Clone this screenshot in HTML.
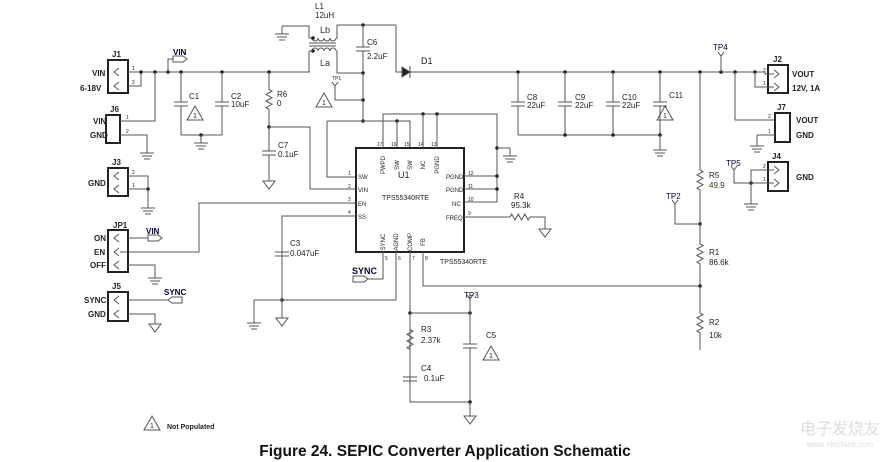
<!DOCTYPE html>
<html><head><meta charset="utf-8"><style>
html,body{margin:0;padding:0;background:#fff;}
svg{display:block;font-family:"Liberation Sans",Arial,sans-serif;}
</style></head><body>
<svg id="s" width="893" height="462" viewBox="0 0 893 462" xmlns="http://www.w3.org/2000/svg">
<g id="g" stroke="#555" stroke-width="1" fill="none"></g>
<g id="t" fill="#222" stroke="none" font-size="8"></g>
<text x="445" y="456" text-anchor="middle" font-size="15.5" font-weight="bold" fill="#111">Figure 24.  SEPIC Converter Application Schematic</text>
<text x="840" y="434" text-anchor="middle" font-size="16" fill="#ddd" font-family="'Noto Sans CJK SC',sans-serif">电子发烧友</text>
<text x="840" y="447" text-anchor="middle" font-size="8" fill="#ddd">www.elecfans.com</text>
</svg>
<script>
var G=document.getElementById('g'),T=document.getElementById('t'),NS='http://www.w3.org/2000/svg';
function el(p,n,a){var e=document.createElementNS(NS,n);for(var k in a)e.setAttribute(k,a[k]);p.appendChild(e);return e;}
function L(){var a=arguments,d='M'+a[0]+' '+a[1];for(var i=2;i<a.length;i+=2)d+=' L'+a[i]+' '+a[i+1];el(G,'path',{d:d});}
function D(x,y){el(G,'circle',{cx:x,cy:y,r:1.8,fill:'#222',stroke:'none'});}
function tx(x,y,s,o){o=o||{};var e=el(T,'text',{x:x,y:y,'font-size':o.fs||8,'font-weight':o.b?'bold':'normal','text-anchor':o.a||'start',fill:o.c||'#222'});if(o.r)e.setAttribute('transform','rotate(-90 '+x+' '+y+')');e.textContent=s;}
function gnd(x,y){L(x,y,x,y+8);L(x-7,y+8,x+7,y+8);L(x-5,y+11,x+5,y+11);L(x-3,y+14,x+3,y+14);}
function agnd(x,y){L(x,y,x,y+6);el(G,'path',{d:'M'+(x-6)+' '+(y+6)+' L'+(x+6)+' '+(y+6)+' L'+x+' '+(y+14)+' Z'});}
function resV(x,y1,y2,mm){var m=mm||(y1+y2)/2,d='M'+x+' '+y1+' L'+x+' '+(m-10);for(var i=0;i<6;i++)d+=' L'+(x+(i%2?-3:3))+' '+(m-10+3.3*i+1.6);d+=' L'+x+' '+(m+10)+' L'+x+' '+y2;el(G,'path',{d:d});}
function resH(x1,x2,y){var m=(x1+x2)/2,d='M'+x1+' '+y+' L'+(m-10)+' '+y;for(var i=0;i<6;i++)d+=' L'+(m-10+3.3*i+1.6)+' '+(y+(i%2?3:-3));d+=' L'+(m+10)+' '+y+' L'+x2+' '+y;el(G,'path',{d:d});}
function capV(x,y1,y2,m){L(x,y1,x,m-2);L(x,m+2,x,y2);L(x-7,m-2,x+7,m-2);L(x-7,m+2,x+7,m+2);}
function tri(x,y){el(G,'path',{d:'M'+x+' '+(y-8)+' L'+(x+8)+' '+(y+6)+' L'+(x-8)+' '+(y+6)+' Z'});tx(x,y+4,'1',{a:'middle',fs:7});}
function box(x,y,w,h){el(G,'rect',{x:x,y:y,width:w,height:h,'stroke-width':2,stroke:'#222'});}
function chev(x,y,r){if(r)L(x,y-4,x+5,y,x,y+4);else L(x+5,y-4,x,y,x+5,y+4);}
function flagR(x,y){el(G,'path',{d:'M'+x+' '+(y-3)+' L'+(x+10)+' '+(y-3)+' L'+(x+14)+' '+y+' L'+(x+10)+' '+(y+3)+' L'+x+' '+(y+3)+' Z'});}
function tp(x,y){L(x-3,y,x,y+4,x+3,y);}

box(108,60,20,33);chev(114,72);chev(114,86);L(128,72,310,72);L(128,86,141,86,141,72);
tx(132,70,'1',{fs:5});tx(132,84,'2',{fs:5});
tx(112,57,'J1',{b:1});tx(92,76,'VIN',{b:1});tx(80,91,'6-18V',{b:1});
[141,155,168,181,222,269].forEach(function(x){D(x,72)});
L(168,72,168,59,173,59);flagR(173,59);tx(173,55,'VIN',{b:1,c:'#003'});
box(106,115,14,28);tx(110,112,'J6',{b:1});tx(93,124,'VIN',{b:1});tx(90,138,'GND',{b:1});
L(120,121,155,121,155,72);L(120,135,147,135,147,145);gnd(147,145);
tx(126,119,'1',{fs:5});tx(126,133,'2',{fs:5});
capV(181,72,135,104);capV(222,72,135,104);L(181,135,222,135);D(201,135);gnd(201,135);
tx(189,99,'C1');tri(195,114);tx(231,99,'C2');tx(231,107,'10uF');
resV(269,72,127);tx(277,97,'R6');tx(277,106,'0');D(269,127);capV(269,127,175,153);tx(278,148,'C7');tx(278,157,'0.1uF');agnd(269,175);
L(269,127,310,127,310,189,356,189);
tx(315,9,'L1');tx(315,18,'12uH');tx(320,33,'Lb',{fs:9,c:'#334'});tx(320,66,'La',{fs:9,c:'#334'});
gnd(282,26);L(282,26,309,26,309,38);L(309,38,312,38);
var d='M312 38';for(var i=0;i<4;i++)d+=' a3 3 0 0 0 6 0';el(G,'path',{d:d});L(336,38,337,38,337,25,396,25);
L(309,43,336,43);L(309,46,336,46);
d='M312 51';for(i=0;i<4;i++)d+=' a3 3 0 0 1 6 0';el(G,'path',{d:d});L(309,51,312,51);L(309,51,309,72);L(336,51,337,51,337,73,363,73);
D(313,38);D(313,51);
D(363,25);capV(363,25,73,49);tx(367,45,'C6');tx(367,59,'2.2uF');D(363,73);
L(363,73,363,121);D(363,100);tp(335,82);tx(332,80,'TP1',{fs:5});L(335,86,335,100,363,100);tri(324,101);
D(363,121);L(327,121,410,121,410,148);L(327,121,327,177,356,177);D(397,121);L(397,121,397,148);
L(396,25,396,72,402,72);el(G,'path',{d:'M402 67 L410 72 L402 77 Z',fill:'#222'});L(410,66,410,78);L(410,72,755,72);tx(421,64,'D1',{b:0,fs:9});
box(356,148,108,104);
tx(398,178,'U1',{fs:9});tx(382,200,'TPS55340RTE',{fs:7});tx(440,264,'TPS55340RTE',{fs:7});
tx(358,179,'SW',{fs:6});tx(358,192,'VIN',{fs:6});tx(358,206,'EN',{fs:6});tx(358,219,'SS',{fs:6});
tx(446,179,'PGND',{fs:6});tx(446,192,'PGND',{fs:6});tx(452,206,'NC',{fs:6});tx(446,220,'FREQ',{fs:6});
[['PWPD',385],['SW',399],['SW',412],['NC',425],['PGND',439]].forEach(function(p){tx(p[1],165,p[0],{r:1,fs:6,a:'middle'});});
[['SYNC',385],['AGND',398],['COMP',412],['FB',425]].forEach(function(p){tx(p[1],242,p[0],{r:1,fs:6,a:'middle'});});
tx(377,146,'17',{fs:5});tx(391,146,'16',{fs:5});tx(404,146,'15',{fs:5});tx(418,146,'14',{fs:5});tx(431,146,'13',{fs:5});
tx(348,175,'1',{fs:5});tx(348,188,'2',{fs:5});tx(348,201,'3',{fs:5});tx(348,214,'4',{fs:5});
tx(468,175,'12',{fs:5});tx(468,188,'11',{fs:5});tx(468,201,'10',{fs:5});tx(468,215,'9',{fs:5});
tx(385,260,'5',{fs:5});tx(398,260,'6',{fs:5});tx(412,260,'7',{fs:5});tx(425,260,'8',{fs:5});
L(383,148,383,114,497,114,497,202,464,202);D(423,114);D(437,114);L(423,114,423,148);L(437,114,437,148);
L(464,176,497,176);L(464,189,497,189);D(497,176);D(497,189);D(497,148);L(497,148,510,148);gnd(510,148);
L(464,217,505,217);resH(505,535,217);L(535,217,545,217,545,223);agnd(545,223);tx(514,199,'R4');tx(511,208,'95.3k');
L(120,252,199,252,199,203,356,203);
L(356,216,282,216,282,300);capV(282,216,300,254);tx(290,246,'C3');tx(290,256,'0.047uF');D(282,300);
L(254,300,396,300,396,252);L(254,300,254,315);gnd(254,315);L(282,300,282,312);agnd(282,312);
L(383,252,383,279,368,279);el(G,'path',{d:'M353 276 L364 276 L368 279 L364 282 L353 282 Z'});tx(352,274,'SYNC',{b:1,fs:9,c:'#003'});
L(410,252,410,402,470,402);D(410,313);L(410,313,470,313);D(470,313);resV(410,313,366);tx(421,332,'R3');tx(421,343,'2.37k');
capV(410,366,402,379);tx(421,371,'C4');tx(424,381,'0.1uF');
capV(470,313,402,346);D(470,402);L(470,402,470,410);agnd(470,410);tx(486,338,'C5');tri(491,354);tp(470,295);tx(464,298,'TP3',{fs:8,c:'#003'});L(470,299,470,313);
L(423,252,423,286,700,286);
[518,565,613,660].forEach(function(x){D(x,72);capV(x,72,135,104);});
L(518,135,660,135);D(565,135);D(613,135);D(660,135);L(660,135,660,142);gnd(660,142);
tx(527,100,'C8');tx(527,108,'22uF');tx(575,100,'C9');tx(575,108,'22uF');tx(622,100,'C10');tx(622,108,'22uF');tx(669,98,'C11');tri(665,114);
D(700,72);resV(700,72,224,180);tx(709,178,'R5');tx(709,188,'49.9',{c:'#331'});
D(700,224);resV(700,224,286,254);tx(709,255,'R1');tx(709,265,'86.6k');tp(675,200);tx(666,199,'TP2',{c:'#003'});L(675,204,675,224,700,224);
D(700,286);resV(700,286,350,323);tx(709,325,'R2');tx(709,338,'10k');
D(721,72);tp(721,52);tx(713,50,'TP4',{c:'#003'});L(721,56,721,72);D(735,72);D(755,72);
box(768,65,20,28);chev(774,74,1);chev(774,87,1);L(755,72,765,72,765,74,774,74);L(755,72,755,87,774,87);
tx(763,72,'2',{fs:5});tx(763,85,'1',{fs:5});tx(773,62,'J2',{b:1});tx(792,77,'VOUT',{b:1});tx(792,91,'12V, 1A',{b:1});
L(735,72,735,120,775,120);box(775,113,15,29);L(757,135,775,135);L(757,135,757,138);gnd(757,138);tx(777,110,'J7',{b:1});tx(796,123,'VOUT',{b:1});tx(796,138,'GND',{b:1});
tx(768,118,'2',{fs:5});tx(768,133,'1',{fs:5});
box(768,162,20,29);chev(774,170,1);chev(774,183,1);tp(734,166);tx(726,166,'TP5',{c:'#003'});L(734,170,734,183,774,183);D(751,183);L(751,183,751,170,774,170);L(751,183,751,196);gnd(751,196);
tx(772,159,'J4',{b:1});tx(796,180,'GND',{b:1});tx(763,168,'2',{fs:5});tx(763,181,'1',{fs:5});
box(108,168,20,28);chev(114,176);chev(114,189);L(128,176,148,176,148,200);D(148,189);L(128,189,148,189);gnd(148,200);tx(112,165,'J3',{b:1});tx(88,186,'GND',{b:1});
tx(132,174,'2',{fs:5});tx(132,187,'1',{fs:5});
box(108,230,20,42);chev(114,238);chev(114,252);chev(114,265);tx(113,228,'JP1',{b:1});tx(94,241,'ON',{b:1});tx(94,255,'EN',{b:1});tx(90,268,'OFF',{b:1});
L(128,238,148,238);flagR(148,238);tx(146,234,'VIN',{b:1,c:'#003'});L(128,265,155,265,155,270);gnd(155,270);
box(108,292,20,29);chev(114,300);chev(114,314);tx(112,289,'J5',{b:1});tx(84,303,'SYNC',{b:1});tx(88,317,'GND',{b:1});
L(128,300,168,300);el(G,'path',{d:'M168 300 L172 297 L182 297 L182 303 L172 303 Z'});tx(164,295,'SYNC',{b:1,c:'#003'});
L(128,314,155,314,155,318);agnd(155,318);
tri(152,424);tx(167,429,'Not Populated',{b:1,fs:7});
</script>
</body></html>
